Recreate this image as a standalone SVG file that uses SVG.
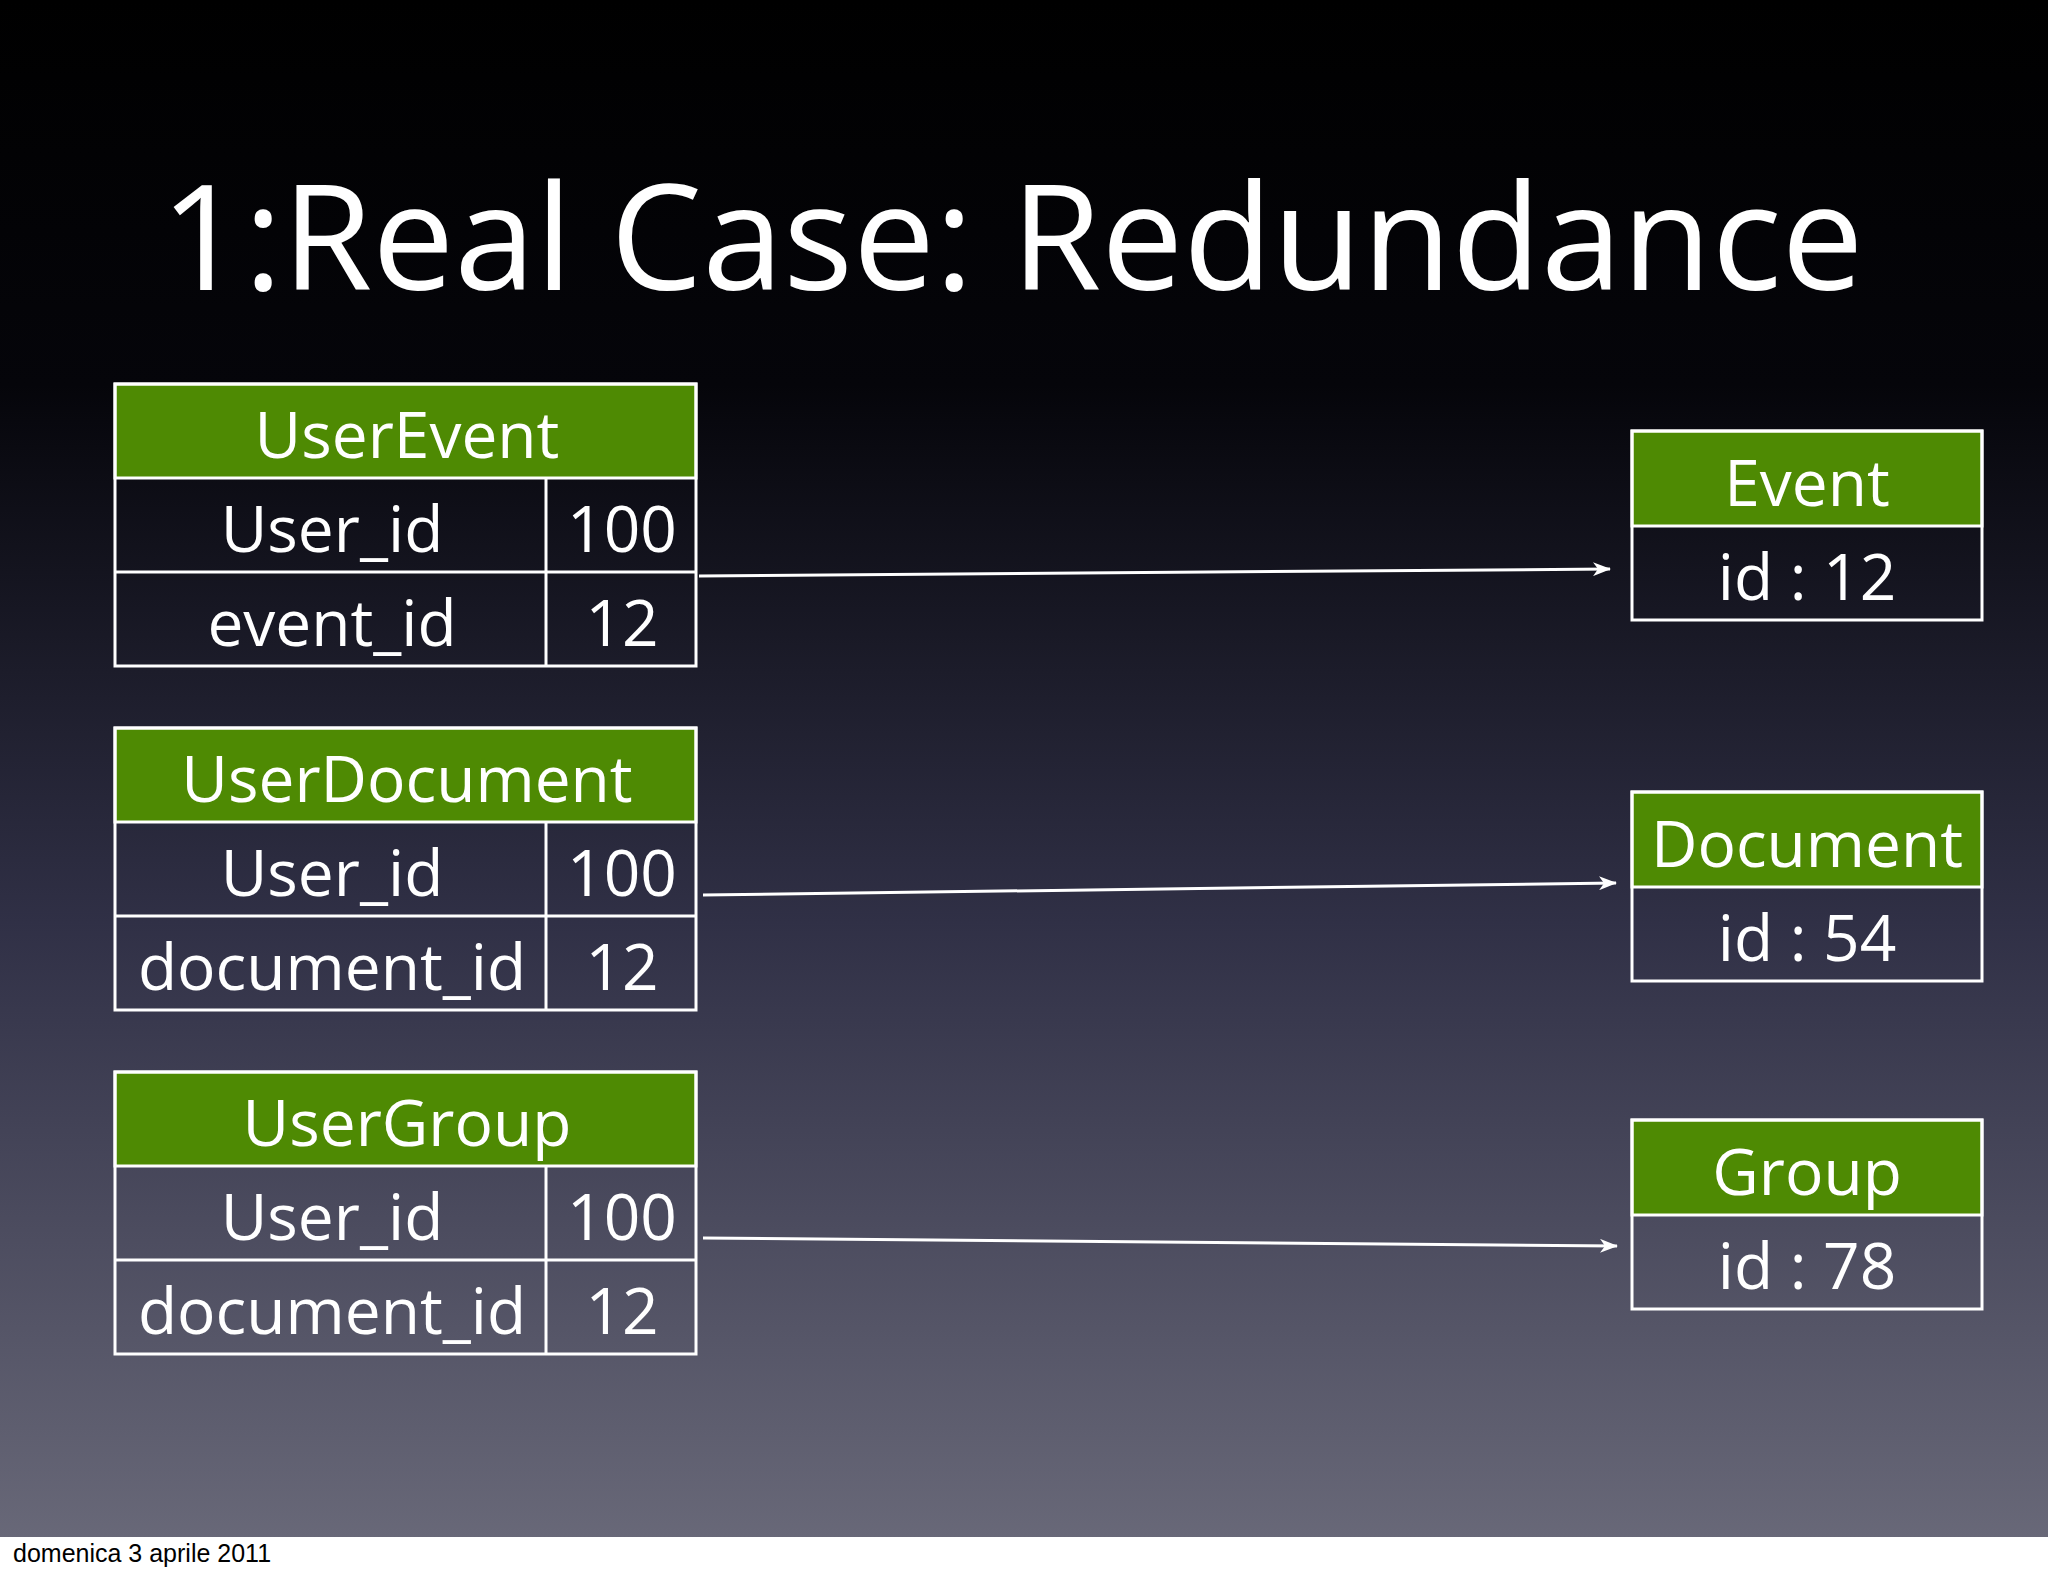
<svg xmlns="http://www.w3.org/2000/svg" width="2048" height="1576" viewBox="0 0 2048 1576">
<defs>
<linearGradient id="bg" x1="0" y1="0" x2="0" y2="1">
<stop offset="0" stop-color="#000"/><stop offset="0.25" stop-color="#05050a"/><stop offset="0.6" stop-color="#303046"/><stop offset="1" stop-color="#686878"/>
</linearGradient>
<marker id="ah" markerWidth="18" markerHeight="14" refX="17" refY="7" orient="auto" markerUnits="userSpaceOnUse"><path d="M0,0 L18,7 L0,14 L5,7 Z" fill="#fff"/></marker>
<style>
.hd{fill:#4e8a03;stroke:#fff;stroke-width:3}
.bx{fill:none;stroke:#fff;stroke-width:3}
.t{font-family:"Open Sans","Liberation Sans",sans-serif;fill:#fff;font-size:64px;text-anchor:middle}
.c{stroke:#fff;stroke-width:3;fill:none;marker-end:url(#ah)}
</style>
</defs>
<rect width="2048" height="1576" fill="#fff"/>
<rect x="0" y="0" width="2048" height="1537" fill="url(#bg)"/>
<text x="1012" y="290" text-anchor="middle" font-family="Open Sans,Liberation Sans,sans-serif" font-size="146" fill="#fff">1:Real Case: Redundance</text>
<g id="UserEvent">
<rect class="hd" x="115" y="384" width="581" height="94"/>
<rect class="bx" x="115" y="384" width="581" height="282"/>
<line class="bx" x1="115" y1="572" x2="696" y2="572"/><line class="bx" x1="546" y1="478" x2="546" y2="666"/>
<text class="t" x="407" y="458">UserEvent</text>
<text class="t" x="332" y="552">User_id</text><text class="t" x="622" y="552">100</text>
<text class="t" x="332" y="646">event_id</text><text class="t" x="622" y="646">12</text>
</g>
<g id="UserDocument">
<rect class="hd" x="115" y="728" width="581" height="94"/>
<rect class="bx" x="115" y="728" width="581" height="282"/>
<line class="bx" x1="115" y1="916" x2="696" y2="916"/><line class="bx" x1="546" y1="822" x2="546" y2="1010"/>
<text class="t" x="407" y="802">UserDocument</text>
<text class="t" x="332" y="896">User_id</text><text class="t" x="622" y="896">100</text>
<text class="t" x="332" y="990">document_id</text><text class="t" x="622" y="990">12</text>
</g>
<g id="UserGroup">
<rect class="hd" x="115" y="1072" width="581" height="94"/>
<rect class="bx" x="115" y="1072" width="581" height="282"/>
<line class="bx" x1="115" y1="1260" x2="696" y2="1260"/><line class="bx" x1="546" y1="1166" x2="546" y2="1354"/>
<text class="t" x="407" y="1146">UserGroup</text>
<text class="t" x="332" y="1240">User_id</text><text class="t" x="622" y="1240">100</text>
<text class="t" x="332" y="1334">document_id</text><text class="t" x="622" y="1334">12</text>
</g>
<g id="Event">
<rect class="hd" x="1632" y="431" width="350" height="95"/>
<rect class="bx" x="1632" y="431" width="350" height="189"/>
<text class="t" x="1807" y="506">Event</text><text class="t" x="1807" y="600">id : 12</text>
</g>
<g id="Document">
<rect class="hd" x="1632" y="792" width="350" height="95"/>
<rect class="bx" x="1632" y="792" width="350" height="189"/>
<text class="t" x="1807" y="867">Document</text><text class="t" x="1807" y="961">id : 54</text>
</g>
<g id="Group">
<rect class="hd" x="1632" y="1120" width="350" height="95"/>
<rect class="bx" x="1632" y="1120" width="350" height="189"/>
<text class="t" x="1807" y="1195">Group</text><text class="t" x="1807" y="1289">id : 78</text>
</g>
<g id="connectors">
<line class="c" x1="699" y1="576" x2="1610" y2="569"/>
<line class="c" x1="703" y1="895" x2="1616" y2="883"/>
<line class="c" x1="703" y1="1238" x2="1617" y2="1246"/>
</g>
<text x="13" y="1562" font-family="Liberation Sans,sans-serif" font-size="25" fill="#000">domenica 3 aprile 2011</text>
</svg>
